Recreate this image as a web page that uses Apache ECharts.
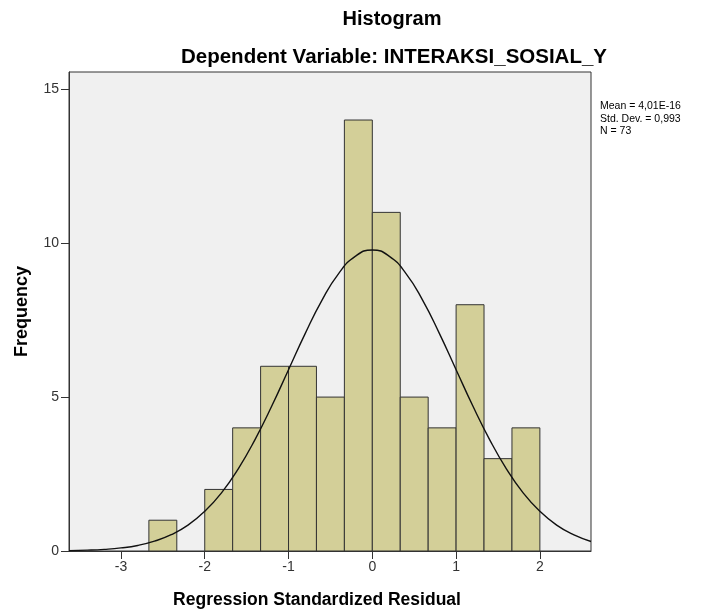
<!DOCTYPE html>
<html>
<head>
<meta charset="utf-8">
<script src="https://cdn.jsdelivr.net/npm/echarts@6/dist/echarts.min.js"></script>
<style>html,body{margin:0;padding:0;background:#fff;}#c{width:712px;height:611px;}</style>
</head>
<body>
<div id="c"></div>
<script>
// Histogram bins (lower edge, upper edge) and counts
var binStarts = [-2.6667, -2.0, -1.6667, -1.3333, -1.0, -0.6667, -0.3333, 0.0, 0.3333, 0.6667, 1.0, 1.3333, 1.6667];
var binEnds   = [-2.3333, -1.6667, -1.3333, -1.0, -0.6667, -0.3333, 0.0, 0.3333, 0.6667, 1.0, 1.3333, 1.6667, 2.0];
var counts    = [1, 2, 4, 6, 6, 5, 14, 11, 5, 4, 8, 3, 4];

// Normal curve
var curveX = [-3.62, -3.4, -3.2, -3.0, -2.8, -2.6, -2.4, -2.2, -2.0, -1.8, -1.6, -1.4, -1.2, -1.0, -0.8, -0.6, -0.4, -0.2, 0.0, 0.2, 0.4, 0.6, 0.8, 1.0, 1.2, 1.4, 1.6, 1.8, 2.0, 2.2, 2.4, 2.61];
var curveY = [0.013, 0.028, 0.054, 0.10, 0.18, 0.32, 0.53, 0.84, 1.29, 1.89, 2.67, 3.62, 4.71, 5.89, 7.07, 8.15, 9.02, 9.58, 9.78, 9.58, 9.02, 8.15, 7.07, 5.89, 4.71, 3.62, 2.67, 1.89, 1.29, 0.84, 0.53, 0.31];

var xTicks = [-3, -2, -1, 0, 1, 2];
var yTicks = [0, 5, 10, 15];

var statsLines = ['Mean = 4,01E-16', 'Std. Dev. = 0,993', 'N = 73'];

var chart = echarts.init(document.getElementById('c'), null, {renderer: 'canvas'});
var font = 'Arial, "Liberation Sans", sans-serif';

var barData = counts.map(function (c, i) { return [binStarts[i], binEnds[i], c]; });
var lineData = curveX.map(function (x, i) { return [x, curveY[i]]; });

chart.setOption({
  animation: false,
  backgroundColor: '#ffffff',
  title: [
    {text: 'Histogram', left: 387, top: 4, textAlign: 'center',
     textStyle: {fontFamily: font, fontSize: 20, fontWeight: 'bold', color: '#000'}},
    {text: 'Dependent Variable: INTERAKSI_SOSIAL_Y', left: 389, top: 42, textAlign: 'center',
     textStyle: {fontFamily: font, fontSize: 20.5, fontWeight: 'bold', color: '#000'}}
  ],
  grid: {left: 69, top: 72, width: 522, height: 479, show: true, outerBoundsMode: 'none', containLabel: false,
         backgroundColor: '#f0f0f0', borderColor: '#333', borderWidth: 1},
  xAxis: {
    type: 'value', min: -3.62, max: 2.61,
    axisLine: {show: true, onZero: false, lineStyle: {color: '#333', width: 1}},
    axisTick: {show: true, length: 8, customValues: xTicks, lineStyle: {color: '#333'}},
    axisLabel: {customValues: xTicks, fontFamily: font, fontSize: 14, color: '#333', margin: 9},
    splitLine: {show: false}
  },
  yAxis: {
    type: 'value', min: 0, max: 15.56,
    name: 'Frequency', nameLocation: 'middle', nameGap: 38,
    nameTextStyle: {fontFamily: font, fontSize: 18, fontWeight: 'bold', color: '#000'},
    axisLine: {show: true, onZero: false, lineStyle: {color: '#333', width: 1}},
    axisTick: {show: true, length: 8, customValues: yTicks, lineStyle: {color: '#333'}},
    axisLabel: {customValues: yTicks, fontFamily: font, fontSize: 14, color: '#333', margin: 10},
    splitLine: {show: false}
  },
  series: [
    {
      type: 'custom',
      data: barData,
      encode: {x: [0, 1], y: 2},
      renderItem: function (params, api) {
        var p0 = api.coord([api.value(0), 0]);
        var p1 = api.coord([api.value(1), api.value(2)]);
        return {
          type: 'rect',
          shape: {x: p0[0], y: p1[1], width: p1[0] - p0[0], height: p0[1] - p1[1]},
          style: {fill: '#d3cf98', stroke: '#333', lineWidth: 1}
        };
      },
      z: 2
    },
    {
      type: 'line', data: lineData, smooth: 0.5, showSymbol: false, symbol: 'none',
      lineStyle: {color: '#111', width: 1.4}, z: 3
    }
  ],
  graphic: [
    {type: 'text', x: 600, y: 100,
     style: {text: statsLines.join('\n'), font: '10.5px ' + font, fill: '#000', lineHeight: 12.5}},
    {type: 'text', x: 317, y: 600,
     style: {text: 'Regression Standardized Residual', font: 'bold 17.5px ' + font, fill: '#000',
             align: 'center', verticalAlign: 'middle'}}
  ]
});
</script>
</body>
</html>
